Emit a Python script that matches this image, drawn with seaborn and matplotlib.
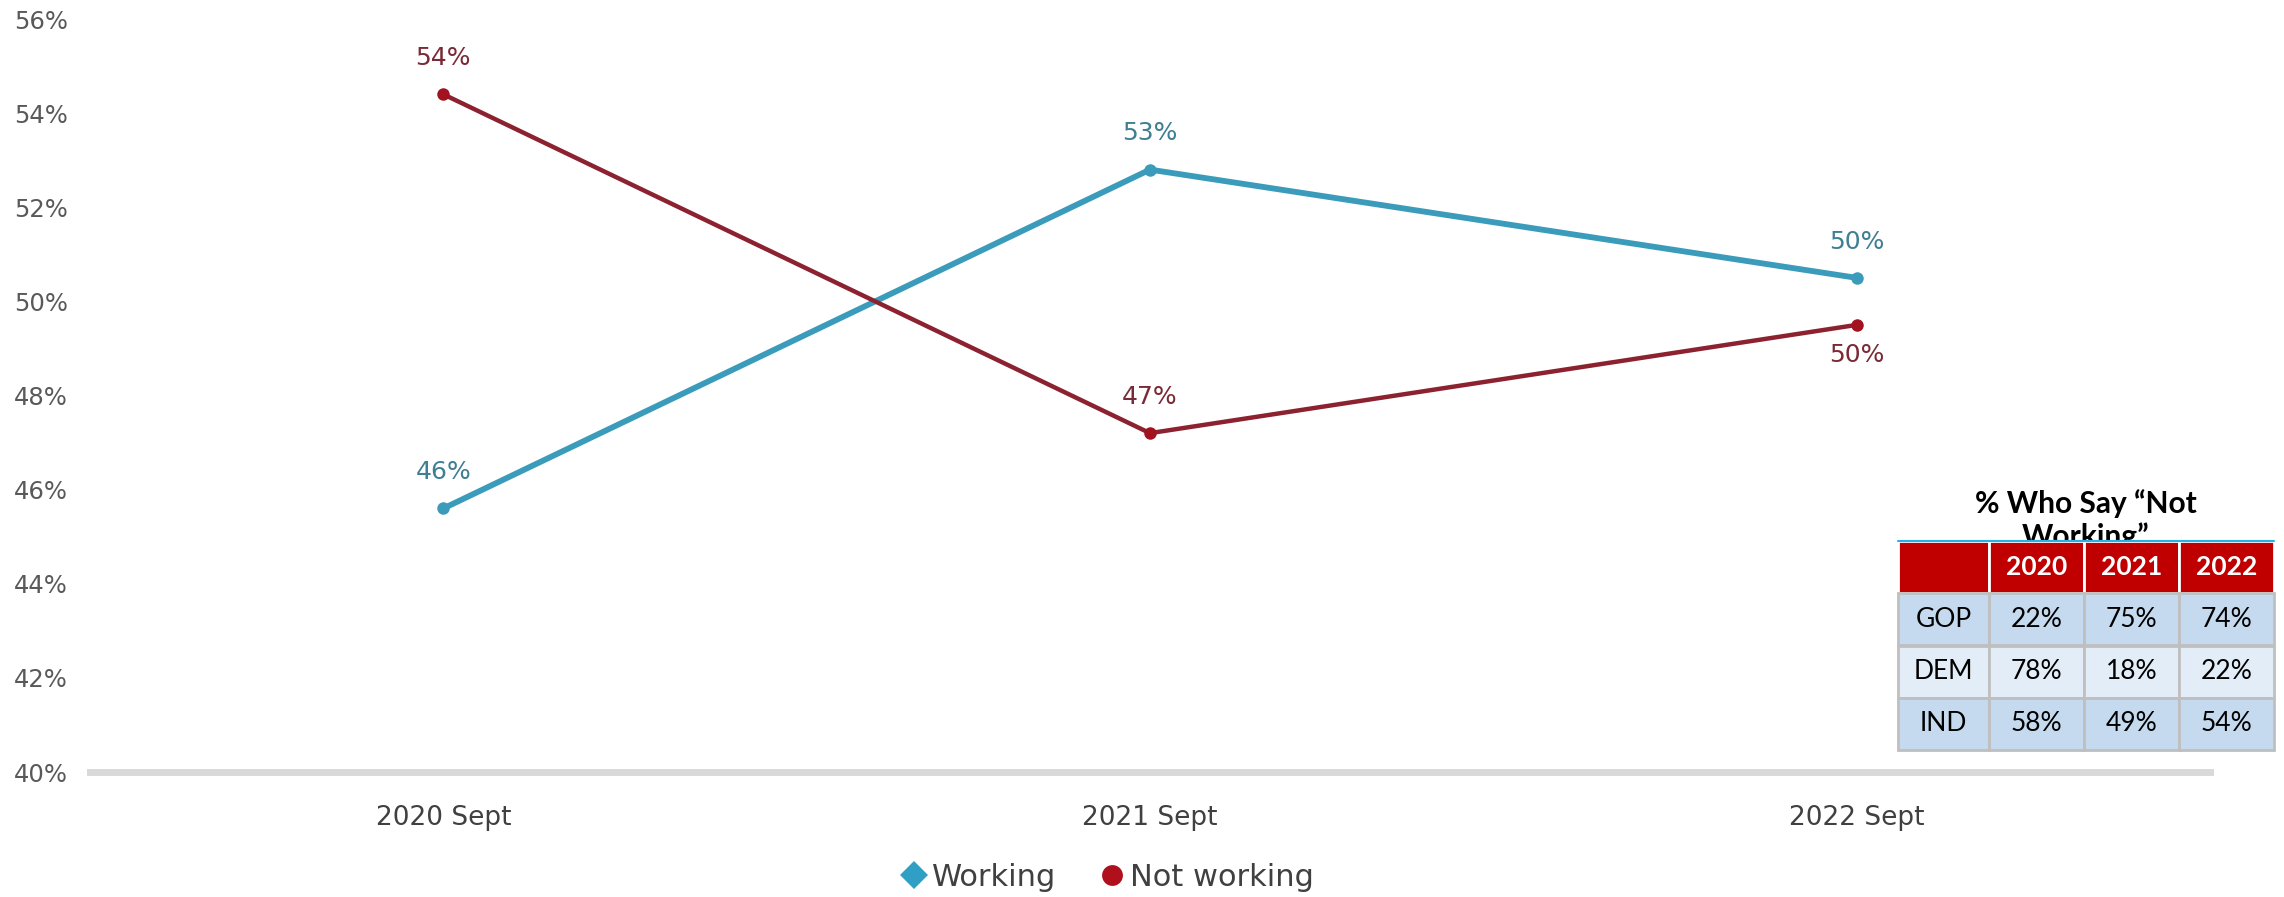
import matplotlib
matplotlib.use("Agg")
import matplotlib.pyplot as plt
from matplotlib.lines import Line2D
import seaborn as sns
import pandas as pd

# ---------------- data ----------------
categories = ["2020 Sept", "2021 Sept", "2022 Sept"]
working = [45.6, 52.8, 50.5]
not_working = [54.4, 47.2, 49.5]
working_labels = ["46%", "53%", "50%"]
not_working_labels = ["54%", "47%", "50%"]
series_names = ["Working", "Not working"]
yticks = [40, 42, 44, 46, 48, 50, 52, 54, 56]

table_title = "% Who Say \u201cNot\nWorking\u201d"
table_cols = ["", "2020", "2021", "2022"]
table_rows = ["GOP", "DEM", "IND"]
table_vals = [["22%", "75%", "74%"],
              ["78%", "18%", "22%"],
              ["58%", "49%", "54%"]]

# ---------------- style ----------------
sns.set_theme(style="white")
plt.rcParams["font.family"] = ["DejaVu Sans"]

c_work = "#3A9CBA"
c_not = "#8C2230"
c_work_txt = "#3F7F92"
c_not_txt = "#7A2A36"

df = pd.DataFrame({
    "x": list(range(len(categories))) * 2,
    "value": working + not_working,
    "series": [series_names[0]] * 3 + [series_names[1]] * 3,
})

fig = plt.figure(figsize=(22.84, 8.97), dpi=100)
ax = fig.add_axes([90 / 2284, 1 - 772 / 897, (2210 - 90) / 2284, (772 - 19) / 897])

sub_w = df[df.series == series_names[0]]
sub_n = df[df.series == series_names[1]]
sns.lineplot(data=sub_w, x="x", y="value", ax=ax, color=c_work, lw=4.2,
             marker="o", markersize=9, markeredgewidth=0, legend=False, zorder=3)
sns.lineplot(data=sub_n, x="x", y="value", ax=ax, color=c_not, lw=3.2,
             marker="o", markersize=9, markeredgewidth=0, legend=False, zorder=3)
ax.lines[-1].set_markerfacecolor("#A3121F")

for i, (v, lab) in enumerate(zip(working, working_labels)):
    ax.annotate(lab, (i, v), xytext=(0, 26), textcoords="offset points",
                ha="center", va="center", fontsize=18, color=c_work_txt)
for i, (v, lab) in enumerate(zip(not_working, not_working_labels)):
    off = -22 if i == 2 else 26
    ax.annotate(lab, (i, v), xytext=(0, off), textcoords="offset points",
                ha="center", va="center", fontsize=18, color=c_not_txt)

ax.set_xlim(-0.5, len(categories) - 0.5)
ax.set_ylim(40, 56)
ax.set_yticks(yticks)
ax.set_yticklabels([f"{t}%" for t in yticks], fontsize=17.5, color="#595959")
ax.set_xticks(range(len(categories)))
ax.set_xticklabels(categories, fontsize=19, color="#404040")
ax.set_xticks([-0.5, 0.5, 1.5, 2.5], minor=True)
ax.tick_params(axis="x", which="major", length=0, pad=24)
ax.tick_params(axis="x", which="minor", length=8, width=1.5, color="#BFBFBF", direction="out")
ax.tick_params(axis="y", length=0, pad=16)
ax.set_xlabel("")
ax.set_ylabel("")
for s in ["top", "right", "left"]:
    ax.spines[s].set_visible(False)
ax.spines["bottom"].set_color("#D9D9D9")
ax.spines["bottom"].set_linewidth(5)
ax.grid(False)

# legend
handles = [
    Line2D([], [], marker="D", color="none", markerfacecolor="#2FA0C4",
           markeredgewidth=0, markersize=14),
    Line2D([], [], marker="o", color="none", markerfacecolor="#B0101C",
           markeredgewidth=0, markersize=15),
]
fig.legend(handles, series_names, loc="center", bbox_to_anchor=(0.483, 0.022),
           ncol=2, frameon=False, fontsize=22, handletextpad=-0.1,
           handlelength=1.4, columnspacing=1.1, labelcolor="#404040")

# ---------------- table ----------------
tx0, tx1 = 1898 / 2284, 2274 / 2284
ty_top, ty_bot = 1 - 541 / 897, 1 - 750 / 897
tax = fig.add_axes([tx0, ty_bot, tx1 - tx0, ty_top - ty_bot])
tax.set_axis_off()

tax.text(0.5, 1 + 52 / 209, table_title, ha="center", va="top",
         transform=tax.transAxes, clip_on=False,
         fontsize=21.5, fontweight="bold", family=["Lato", "DejaVu Sans"],
         color="#000000", linespacing=1.2, zorder=1)

cell_text = [table_cols] + [[r] + vals for r, vals in zip(table_rows, table_vals)]
widths = [91, 95, 95, 95]
tot = sum(widths)
col_w = [w / tot for w in widths]
tbl = tax.table(cellText=cell_text, colWidths=col_w, bbox=[0, 0, 1, 1],
                cellLoc="center")
tbl.set_zorder(5)
tbl.auto_set_font_size(False)
row_colors = ["#C5DAEE", "#E3EDF7", "#C5DAEE"]
for (r, c), cell in tbl.get_celld().items():
    cell.get_text().set_fontsize(19)
    cell.get_text().set_family(["Lato", "DejaVu Sans"])
    if r == 0:
        cell.set_facecolor("#C00000")
        cell.set_edgecolor("white")
        cell.set_linewidth(2)
        cell.get_text().set_color("white")
        cell.get_text().set_fontweight("bold")
    else:
        cell.set_facecolor(row_colors[r - 1])
        cell.set_edgecolor("#BFBFBF")
        cell.set_linewidth(2)
        cell.get_text().set_color("#000000")
tax.plot([0, 1], [1, 1], color="#2AB0E8", lw=1.5, transform=tax.transAxes,
         clip_on=False, zorder=20)

fig.savefig("out.png", dpi=100, facecolor="white")
